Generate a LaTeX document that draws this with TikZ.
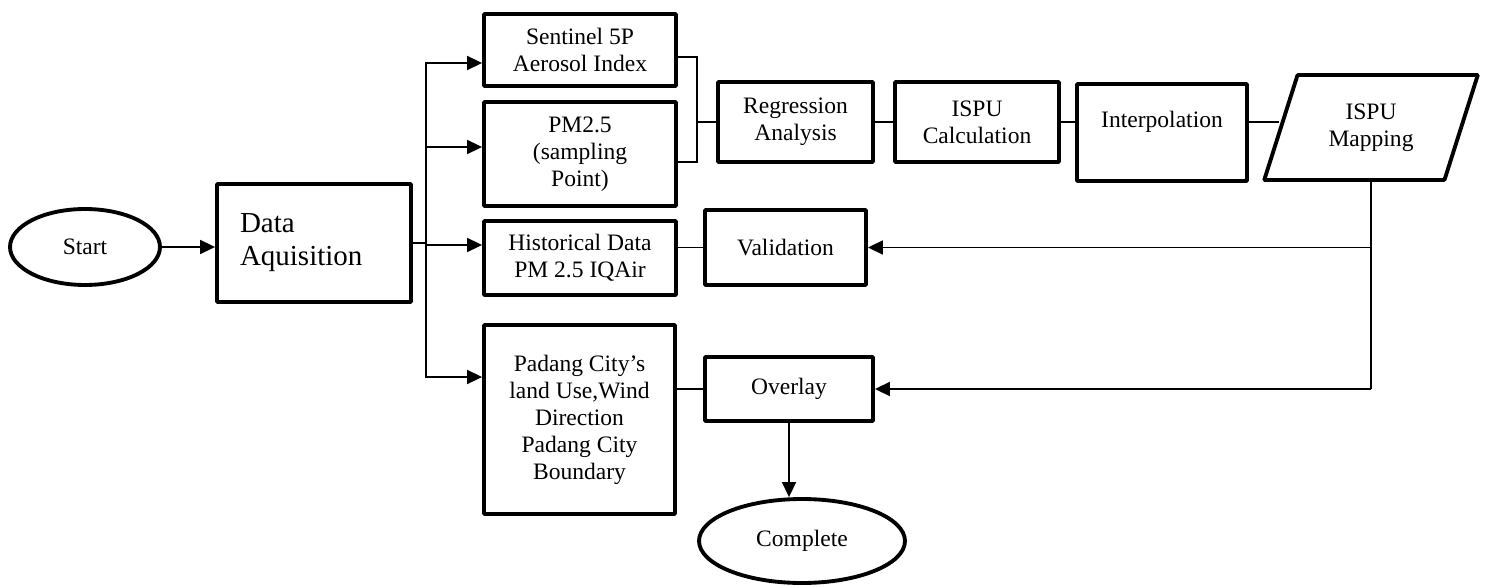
\documentclass[tikz,border=0pt]{standalone}
\usepackage{fontspec}
\setmainfont{Liberation Serif}
\usetikzlibrary{shapes.geometric,arrows.meta}
\begin{document}
\begin{tikzpicture}[x=0.02cm,y=-0.02cm,
    >={Triangle[length=0.3cm,width=0.28cm]},
    box/.style={draw,line width=2.2pt,rounded corners=0.5pt,align=center,inner sep=0pt,font=\fontsize{13.4}{15.4}\selectfont},
    oval/.style={box,ellipse},
    link/.style={line width=1pt},
    arr/.style={link,->}]
    \useasboundingbox (0,0) rectangle (1486,587);
    \node [oval,minimum width=3cm,minimum height=1.52cm] (start) at (85,247) {Start};
    \node [box,minimum width=3.88cm,minimum height=2.36cm,text width=2.96cm,align=left,font=\fontsize{16.5}{18.8}\selectfont] (data) at (314,243) {Data\\Aquisition};
    \node [box,minimum width=3.84cm,minimum height=1.44cm] (sent) at (580,50) {Sentinel 5P\\Aerosol Index};
    \node [box,minimum width=3.84cm,minimum height=2.08cm] (pm) at (580,154) {PM2.5\\(sampling\\Point)};
    \node [box,minimum width=3.84cm,minimum height=1.48cm] (hist) at (580,258) {Historical Data\\PM 2.5 IQAir};
    \node [box,minimum width=3.82cm,minimum height=3.78cm] (pad) at (579.5,419.5) {Padang City’s\\land Use,Wind\\Direction\\Padang City\\Boundary};
    \node [box,minimum width=3.1cm,minimum height=1.6cm] (reg) at (795.5,122) {Regression\\Analysis};
    \node [box,minimum width=3.28cm,minimum height=1.6cm] (calc) at (977,122) {ISPU\\Calculation};
    \node [box,minimum width=3.4cm,minimum height=1.94cm] (interp) at (1162,132.5) {Interpolation\\~};
    \node [box,trapezium,trapezium left angle=68,trapezium right angle=112,trapezium stretches=true,minimum width=4.28cm,minimum height=2.1cm] (map) at (1371,127.5) {ISPU\\Mapping};
    \node [box,minimum width=3.22cm,minimum height=1.5cm] (val) at (785.5,247.5) {Validation};
    \node [box,minimum width=3.36cm,minimum height=1.28cm] (ovl) at (789,389) {Overlay};
    \node [oval,minimum width=4.12cm,minimum height=1.68cm] (comp) at (802,541) {Complete};
    \coordinate (trunk) at (426,243);
    \coordinate (join) at (697,122);
    \draw [arr] (start.east) -- (start.east -| data.west);
    \draw [link] (data.east) -- (trunk);
    \draw [arr] (trunk) |- ([yshift=-0.26cm]sent.west);
    \draw [arr] (trunk) |- ([yshift=0.14cm]pm.west);
    \draw [arr] (trunk) |- ([yshift=0.26cm]hist.west);
    \draw [arr] (trunk) |- ([yshift=0.85cm]pad.west);
    \draw [link] ([yshift=-0.14cm]sent.east) -| (join) |- ([yshift=-0.16cm]pm.east);
    \draw [link] (join) -- (join -| reg.west);
    \draw [link] (reg) -- (calc);
    \draw [link] (calc.east) -- (calc.east -| interp.west);
    \draw [link] (interp.east |- calc.east) -- (calc.east -| map.west);
    \draw [link] (map.south) -- (map.south |- ovl.east);
    \draw [arr] (map.south |- val.east) -- (val.east);
    \draw [arr] (map.south |- ovl.east) -- (ovl.east);
    \draw [link] (hist.east |- val.west) -- (val.west);
    \draw [link] (pad.east |- ovl.west) -- (ovl.west);
    \draw [arr] (ovl.south) -- (ovl.south |- comp.north);
\end{tikzpicture}
\end{document}
